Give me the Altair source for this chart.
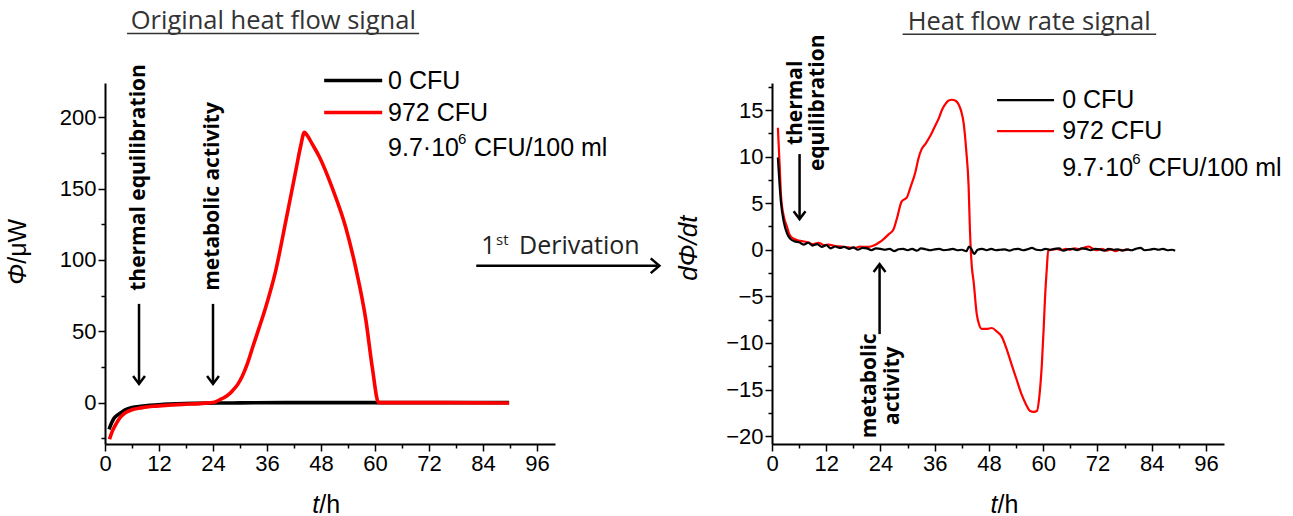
import altair as alt
import pandas as pd

# ---------------- values ----------------
series_names = ["0 CFU", "972 CFU"]
series_colors = ["#000000", "#ff0000"]
legend_note = ["9.7·10", "6", "CFU/100 ml"]

# Left panel: original heat flow signal (µW) vs t (h)
t_raw_0 = [0.9, 1.5, 2.0, 3.0, 4.0, 5.0, 6.0, 8.0, 10.0, 13.0,
           16.0, 20.0, 25.0, 30.0, 40.0, 50.0, 60.0, 70.0, 80.0, 89.8]
phi_raw_0 = [-18.7, -14.0, -11.0, -8.2, -6.0, -4.5, -3.5, -2.5, -1.8, -1.2,
             -0.8, -0.5, -0.3, -0.2, 0.0, 0.0, 0.0, 0.0, 0.0, 0.0]

t_raw_972 = [1.0, 1.5, 2.4, 3.5, 4.6, 6.0, 8.3, 11.0, 14.0, 17.2,
             20.9, 23.0, 24.5, 25.5, 26.5, 27.5, 28.3, 29.5, 30.5, 31.6,
             32.8, 34.2, 35.7, 37.9, 40.2, 42.4, 43.5, 44.3, 45.0, 46.0,
             47.6, 50.5, 53.5, 55.7, 58.0, 59.4, 60.8, 62.0, 75.0, 89.8]
phi_raw_972 = [-25.7, -21.0, -15.2, -10.0, -7.0, -5.0, -3.5, -2.5, -1.8, -1.2,
               -0.7, -0.2, 0.5, 2.0, 3.6, 5.8, 8.2, 12.8, 18.5, 27.0,
               38.6, 52.0, 66.7, 92.0, 127.5, 162.6, 180.0, 189.5, 187.0, 181.5,
               172.5, 150.5, 122.8, 94.7, 57.3, 24.6, 0.0, 0.0, 0.0, -0.3]

# Right panel: heat flow rate signal dΦ/dt vs t (h)
t_rate_0 = [1.3, 2.0, 2.6, 3.3, 4.0, 5.0, 6.0, 7.0, 8.0, 9.0,
            10.0, 11.0, 12.0, 13.0, 14.0, 15.0, 16.0, 17.0, 18.0, 19.0,
            20.0, 21.0, 22.0, 23.0, 24.0, 25.0, 26.0, 27.0, 28.0, 29.0,
            30.0, 31.0, 32.0, 33.0, 34.0, 35.0, 36.0, 37.0, 38.0, 39.0,
            40.0, 41.0, 42.0, 43.0, 43.6, 44.2, 44.7, 45.5, 46.5, 47.5,
            48.5, 49.5, 50.5, 51.5, 52.5, 53.5, 54.5, 55.5, 56.5, 57.5,
            58.5, 59.5, 60.5, 61.5, 62.5, 63.5, 64.5, 65.5, 66.5, 67.5,
            68.5, 69.5, 70.5, 71.5, 72.5, 73.5, 74.5, 75.5, 76.5, 77.5,
            78.5, 79.5, 80.5, 81.5, 82.5, 83.5, 84.5, 85.5, 86.5, 87.5,
            88.5, 89.2]
dphi_0 = [9.9, 5.0, 3.0, 1.8, 1.2, 0.9, 0.8, 0.55, 0.75, 0.45,
          0.6, 0.3, 0.5, 0.15, 0.35, 0.2, 0.3, 0.1, 0.25, 0.0,
          0.2, 0.15, -0.05, 0.15, 0.1, 0.0, 0.1, -0.15, 0.05, 0.1,
          -0.05, 0.1, -0.1, 0.15, 0.05, -0.05, 0.05, 0.1, -0.05, 0.0,
          0.1, -0.05, 0.0, -0.15, 0.35, 0.0, -0.45, 0.0, 0.1, -0.05,
          0.1, -0.05, 0.0, 0.05, -0.1, 0.05, 0.1, -0.05, 0.05, 0.2,
          0.0, -0.05, 0.1, 0.0, 0.1, 0.15, -0.1, 0.05, 0.1, -0.05,
          0.15, 0.1, -0.05, 0.1, 0.05, -0.1, 0.1, 0.0, 0.05, -0.1,
          0.05, -0.05, 0.1, 0.2, -0.05, 0.0, 0.1, 0.0, 0.1, -0.05,
          0.0, -0.1]

t_rate_972 = [1.3, 1.7, 2.0, 2.6, 3.3, 3.8, 4.4, 5.5, 6.6, 8.0,
              9.0, 10.3, 11.5, 12.5, 14.0, 15.5, 17.0, 18.4, 19.5, 20.5,
              21.4, 22.5, 23.6, 24.7, 25.8, 26.9, 27.6, 28.7, 29.8, 30.7,
              31.7, 32.4, 33.1, 34.0, 35.0, 36.0, 36.8, 37.6, 38.3, 39.0,
              39.8, 40.6, 41.3, 41.9, 42.4, 43.0, 43.5, 43.8, 44.2, 44.6,
              45.3, 45.8, 46.4, 47.5, 48.6, 49.8, 50.8, 51.8, 53.0, 54.1,
              55.2, 56.2, 57.1, 57.9, 58.6, 59.2, 59.7, 60.1, 60.4, 60.8,
              61.1, 62.0, 63.0, 64.0, 65.0, 66.0, 67.0, 68.0, 69.0, 70.0,
              71.0, 72.0, 73.0, 74.0, 75.0, 76.0, 77.0, 78.0, 79.0]
dphi_972 = [13.1, 9.0, 5.8, 3.6, 2.5, 1.7, 1.3, 1.05, 0.93, 0.8,
            0.6, 0.75, 0.5, 0.55, 0.4, 0.35, 0.25, 0.2, 0.35, 0.3,
            0.3, 0.45, 0.75, 1.15, 1.65, 2.2, 3.3, 5.2, 5.6, 6.8,
            8.3, 9.8, 10.8, 11.4, 12.2, 13.2, 14.0, 15.0, 15.6, 16.0,
            16.1, 16.0, 15.6, 14.8, 13.6, 10.5, 6.8, 2.0, -1.75, -3.4,
            -6.9, -8.0, -8.5, -8.5, -8.4, -8.8, -9.3, -10.5, -12.3, -13.9,
            -15.5, -16.6, -17.3, -17.4, -17.3, -15.5, -12.3, -8.5, -5.2, -2.0,
            -0.1, 0.0, 0.1, -0.05, 0.1, 0.0, 0.15, 0.05, 0.2, 0.35,
            0.1, -0.05, 0.1, -0.1, 0.05, -0.15, 0.0, -0.05, 0.05]

x_tick_values = list(range(0, 97, 6))
left_y_tick_values = list(range(-25, 201, 25))
right_y_tick_values = [v / 2 for v in range(-40, 36, 5)]

# ---------------- styling ----------------
TICK_FONT = "Liberation Sans"
TEXT_FONT = "Open Sans"
W_LEFT, W_RIGHT, H = 450, 452, 361
LEG_FS = 25


def axis(values, major):
    test = f"datum.value % {major} === 0"
    return alt.Axis(
        values=values, title=None, grid=False,
        labelExpr=f"{test} ? datum.label : ''",
        tickSize={"condition": {"test": test, "value": 7}, "value": 4},
        domainColor="black", domainWidth=2, tickColor="black", tickWidth=1.5,
        labelFont=TICK_FONT, labelFontSize=22, labelColor="black",
        labelPadding=2, labelOverlap=False, labelFlush=False,
    )


def make_xy(xdom, ydom, yvals, ymajor):
    xs = alt.Scale(domain=xdom, nice=False, zero=False)
    ys = alt.Scale(domain=ydom, nice=False, zero=False)
    X = alt.X("t:Q", scale=xs, axis=axis(x_tick_values, 12))
    Y = alt.Y("v:Q", scale=ys, axis=axis(yvals, ymajor))
    return X, Y


def line(t, v, X, Y, color, width):
    df = pd.DataFrame({"t": t, "v": v})
    return alt.Chart(df).mark_line(color=color, strokeWidth=width, interpolate="monotone").encode(x=X, y=Y)


def texts(rows, X, Y, **kw):
    df = pd.DataFrame(rows, columns=["t", "v", "label"])
    return alt.Chart(df).mark_text(**kw).encode(x=X, y=Y, text="label:N")


def hrule(rows, X, Y, color, width):
    df = pd.DataFrame(rows, columns=["t", "t2", "v"])
    return alt.Chart(df).mark_rule(color=color, strokeWidth=width).encode(x=X, x2="t2:Q", y=Y)


def vrule(rows, X, Y, width):
    df = pd.DataFrame(rows, columns=["t", "v", "v2"])
    return alt.Chart(df).mark_rule(color="black", strokeWidth=width).encode(x=X, y=Y, y2="v2:Q")


def heads(rows, X, Y, shape, size, width):
    df = pd.DataFrame(rows, columns=["t", "v"])
    return alt.Chart(df).mark_point(shape=shape, filled=False, stroke="black", strokeWidth=width,
                                    size=size, opacity=1).encode(x=X, y=Y)


def legend(X, Y, t_line, t2_line, t_text, v_rows, width):
    common = dict(align="left", baseline="middle", font=TICK_FONT, color="black")
    return [
        hrule([(t_line, t2_line, v_rows[0])], X, Y, series_colors[0], width),
        hrule([(t_line, t2_line, v_rows[1])], X, Y, series_colors[1], width),
        texts([(t_text, v_rows[0], series_names[0]), (t_text, v_rows[1], series_names[1]),
               (t_text, v_rows[2], legend_note[0])], X, Y, fontSize=LEG_FS, **common),
        texts([(t_text, v_rows[2], legend_note[1])], X, Y, fontSize=15, dx=70, dy=-9, **common),
        texts([(t_text, v_rows[2], legend_note[2])], X, Y, fontSize=LEG_FS, dx=86, **common),
    ]


DOWN = "M-0.75,-1L0,0L0.75,-1"
UP = "M-0.75,1L0,0L0.75,1"
RIGHT = "M-1,-0.85L0,0L-1,0.85"

# ---------------- left panel ----------------
XL, YL = make_xy([0, 100], [-29, 224], left_y_tick_values, 50)
left_layers = [
    line(t_raw_0, phi_raw_0, XL, YL, series_colors[0], 3.6),
    line(t_raw_972, phi_raw_972, XL, YL, series_colors[1], 3.6),
    *legend(XL, YL, 48.7, 61.6, 62.9, [225.7, 203.3, 178.7], 3.6),
    # title + underline
    texts([(37.4, 261.5, "Original heat flow signal")], XL, YL, align="center", baseline="alphabetic",
          font=TEXT_FONT, fontSize=25.5, color="#333333"),
    hrule([(4.9, 69.8, 258.7)], XL, YL, "#333333", 1.5),
    # annotations
    texts([(7.56, 78.4, "thermal equilibration"), (24.0, 78.4, "metabolic activity")], XL, YL,
          align="left", baseline="middle", angle=270, font=TEXT_FONT, fontSize=21, fontWeight="bold",
          color="black"),
    vrule([(7.56, 69.2, 14.0), (24.0, 69.2, 14.0)], XL, YL, 2.5),
    heads([(7.56, 13.1), (24.0, 13.1)], XL, YL, DOWN, 250, 2.5),
    # "1st Derivation" arrow between panels
    texts([(83.6, 104.3, "1"), (92.0, 104.3, "Derivation")], XL, YL, align="left", baseline="alphabetic",
          font=TEXT_FONT, fontSize=25, color="#222222"),
    texts([(86.9, 110.7, "st")], XL, YL, align="left", baseline="alphabetic",
          font=TEXT_FONT, fontSize=15, color="#222222"),
    hrule([(82.5, 122.8, 95.9)], XL, YL, "black", 2.5),
    heads([(123.2, 95.9)], XL, YL, RIGHT, 300, 2.5),
    # axis titles
    texts([(47.6, -77.5, "t")], XL, YL, align="right", baseline="alphabetic", font=TICK_FONT,
          fontSize=25, fontStyle="italic", color="black"),
    texts([(47.6, -77.5, "/h")], XL, YL, align="left", baseline="alphabetic", font=TICK_FONT,
          fontSize=25, color="black"),
    texts([(-19.3, 97.3, "Φ")], XL, YL, align="right", baseline="middle", angle=270, font=TICK_FONT,
          fontSize=25, fontStyle="italic", color="black"),
    texts([(-19.3, 97.3, "/μW")], XL, YL, align="left", baseline="middle", angle=270, font=TICK_FONT,
          fontSize=25, color="black"),
]
left = alt.layer(*left_layers).properties(width=W_LEFT, height=H)

# ---------------- right panel ----------------
XR, YR = make_xy([0, 100], [-20.85, 17.9], right_y_tick_values, 5)
right_layers = [
    line(t_rate_972, dphi_972, XR, YR, series_colors[1], 2.2),
    line(t_rate_0, dphi_0, XR, YR, series_colors[0], 2.2),
    *legend(XR, YR, 49.8, 62.4, 64.2, [16.06, 12.74, 8.77], 2.2),
    # title + underline
    texts([(56.9, 23.57, "Heat flow rate signal")], XR, YR, align="center", baseline="alphabetic",
          font=TEXT_FONT, fontSize=25.5, color="#333333"),
    hrule([(28.9, 85.0, 23.14)], XR, YR, "#333333", 1.5),
    # annotations
    texts([(5.4, 15.77, "thermal"), (10.1, 15.77, "equilibration"),
           (21.6, -14.6, "metabolic"), (26.7, -14.6, "activity")], XR, YR,
          align="center", baseline="middle", angle=270, font=TEXT_FONT, fontSize=21, fontWeight="bold",
          color="black"),
    vrule([(6.1, 10.27, 3.4), (23.8, -9.05, -1.65)], XR, YR, 2.5),
    heads([(6.1, 3.29)], XR, YR, DOWN, 250, 2.5),
    heads([(23.8, -1.53)], XR, YR, UP, 250, 2.5),
    # axis titles
    texts([(49.9, -28.3, "t")], XR, YR, align="right", baseline="alphabetic", font=TICK_FONT,
          fontSize=25, fontStyle="italic", color="black"),
    texts([(49.9, -28.3, "/h")], XR, YR, align="left", baseline="alphabetic", font=TICK_FONT,
          fontSize=25, color="black"),
    texts([(-18.4, 0.18, "dΦ/dt")], XR, YR, align="center", baseline="middle", angle=270, font=TICK_FONT,
          fontSize=26, fontStyle="italic", color="black"),
]
right = alt.layer(*right_layers).properties(width=W_RIGHT, height=H)

chart = (
    alt.hconcat(left, right, spacing=217, bounds="flush")
    .properties(padding={"left": 6, "top": 9, "right": 0, "bottom": 0}, background="white")
    .configure_view(stroke=None)
)

chart.save("out.html", embed_options={"renderer": "svg", "actions": False})
